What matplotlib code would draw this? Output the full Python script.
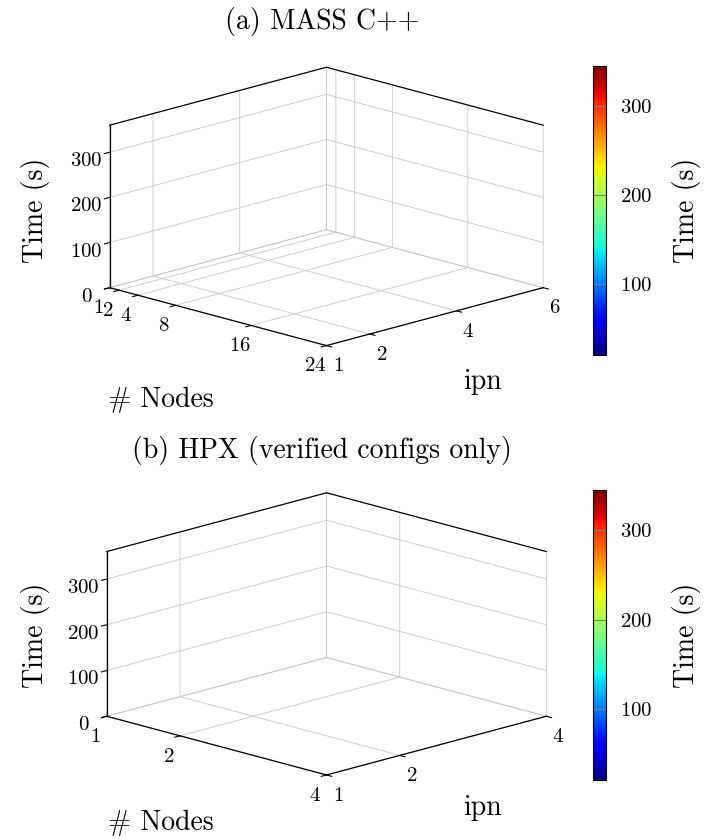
import numpy as np
import matplotlib
matplotlib.use('Agg')
import matplotlib.pyplot as plt
from matplotlib.colors import Normalize
from matplotlib.cm import ScalarMappable

# axis ticks / ranges
nodes_a = [1, 2, 4, 8, 16, 24]
ipn_a = [1, 2, 4, 6]
nodes_b = [1, 2, 4]
ipn_b = [1, 2, 4]
time_ticks = [0, 100, 200, 300]
zmax = 360
cbar_min, cbar_max = 20, 345
cbar_ticks = [100, 200, 300]

plt.rcParams['font.family'] = ['cmr10', 'DejaVu Serif']
plt.rcParams['mathtext.fontset'] = 'cm'
plt.rcParams['axes.formatter.use_mathtext'] = True

fig = plt.figure(figsize=(7.04, 8.4), dpi=100)


def make_panel(center, size, cbar_rect, title, title_y, nodes, ipn, label_pos):
    w, h = size
    rect = [center[0] - w / 2, center[1] - h / 2, w, h]
    ax = fig.add_axes(rect, projection='3d', proj_type='ortho')
    ax.view_init(elev=15.5, azim=-45)
    ax.set_box_aspect((1, 1, 0.55))
    x0, x1 = min(nodes), max(nodes)
    y0, y1 = min(ipn), max(ipn)
    # top box edges in black
    ax.plot([x0, x0, x1], [y0, y1, y1], [zmax, zmax, zmax], color='black', lw=0.9)
    ax.set_xlim(x0, x1)
    ax.set_ylim(y0, y1)
    ax.set_zlim(0, zmax)
    ax.set_xticks(nodes)
    ax.set_yticks(ipn)
    ax.set_zticks(time_ticks)
    ax.zaxis.set_ticks_position('lower')
    for axis in (ax.xaxis, ax.yaxis, ax.zaxis):
        axis.set_pane_color((1, 1, 1, 0))
        axis.pane.set_edgecolor('0.5')
        axis._axinfo['grid'].update(color='0.78', linewidth=0.6)
        axis._axinfo['tick'].update(inward_factor=0.3, outward_factor=0.0)
        axis.line.set_color('black')
        axis.line.set_linewidth(0.9)
    ax.tick_params(labelsize=15, pad=1)

    fig.text(0.457, title_y, title, ha='center', va='center', fontsize=20)
    fig.text(label_pos[0][0], label_pos[0][1], '# Nodes', ha='center', va='center', fontsize=20)
    fig.text(label_pos[1][0], label_pos[1][1], 'ipn', ha='center', va='center', fontsize=20)
    fig.text(label_pos[2][0], label_pos[2][1], 'Time (s)', ha='center', va='center',
             fontsize=20, rotation=90)

    cax = fig.add_axes(cbar_rect)
    sm = ScalarMappable(norm=Normalize(cbar_min, cbar_max), cmap='jet')
    cb = fig.colorbar(sm, cax=cax, ticks=cbar_ticks)
    cb.outline.set_linewidth(0.8)
    cax.tick_params(direction='in', length=9.4, color='0.5', labelsize=15, pad=10)
    cb.set_label('Time (s)', fontsize=20, labelpad=14)
    return ax


make_panel((0.455, 0.747), (0.963, 0.5376), [0.8423, 0.5774, 0.0185, 0.344],
           '(a) MASS C++', 0.974, nodes_a, ipn_a,
           [(0.228, 0.524), (0.685, 0.545), (0.05, 0.75)])
make_panel((0.455, 0.238), (0.976, 0.545), [0.8423, 0.0714, 0.0185, 0.345],
           '(b) HPX (verified configs only)', 0.464, nodes_b, ipn_b,
           [(0.228, 0.021), (0.685, 0.038), (0.05, 0.244)])

fig.savefig('out.png', dpi=100)
